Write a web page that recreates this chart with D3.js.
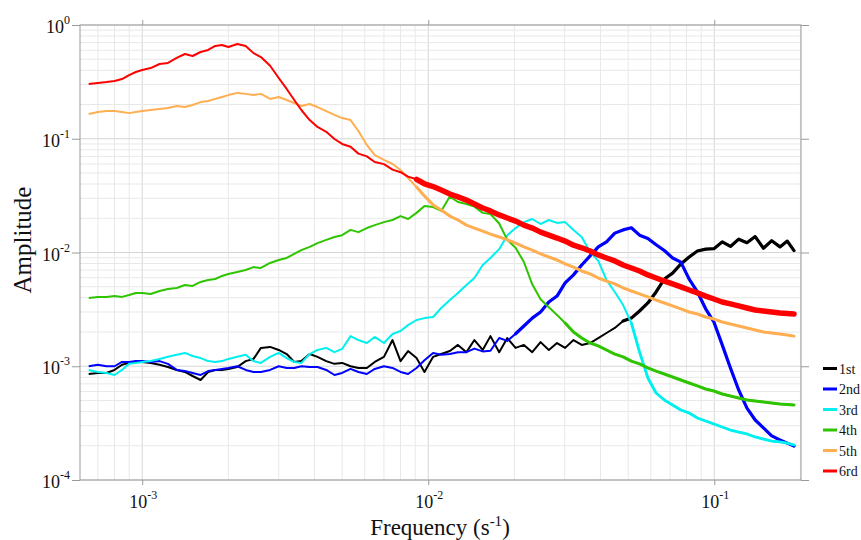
<!DOCTYPE html>
<html>
<meta charset="utf-8">
<script src="https://d3js.org/d3.v7.min.js"></script>
<style>
body { margin: 0; background: #fff; }
text { font-family: "Liberation Serif", "Times New Roman", serif; fill: #111; }
</style>
<body>
<script>

var freq = [0.00065,0.0007,0.00075,0.0008,0.00085,0.0009,0.00095,0.001,0.00107,0.00115,0.00123,
  0.00132,0.00141,0.0015,0.0016,0.0017,0.0018,0.0019,0.002,0.00215,0.0023,0.00245,
  0.0026,0.0028,0.003,0.0032,0.0034,0.0036,0.00385,0.0041,0.0044,0.0047,0.005,
  0.00535,0.0057,0.0061,0.0065,0.007,0.0075,0.008,0.0085,0.0091,0.0097,0.0104,
  0.0111,0.0119,0.0127,0.0136,0.0145,0.0155,0.0165,0.0177,0.0189,0.0202,0.0216,
  0.0231,0.0247,0.0264,0.0282,0.0301,0.0322,0.0344,0.0368,0.0393,0.042,0.0449,
  0.048,0.0513,0.0548,0.0586,0.0626,0.0669,0.0715,0.0764,0.0817,0.0873,0.0933,
  0.0997,0.1066,0.1139,0.1217,0.1301,0.139,0.1486,0.1588,0.1697,0.18,0.19];

var first = [0.000855,0.000873,0.000873,0.000928,0.00103,0.00107,0.00109,0.00109,0.00107,0.00103,0.000985,
  0.000928,0.000891,0.000821,0.000757,0.000891,0.000928,0.000928,0.000947,0.000985,0.00111,0.00116,
  0.00145,0.00148,0.00139,0.00128,0.00109,0.00111,0.00128,0.00121,0.00111,0.00105,0.00107,
  0.001,0.000966,0.000966,0.00109,0.00121,0.0017,0.00111,0.00136,0.00118,0.000891,0.00121,
  0.00128,0.00136,0.00154,0.00133,0.0017,0.00139,0.00184,0.00133,0.00177,0.00145,0.00154,
  0.00133,0.00163,0.00139,0.0016,0.00145,0.0017,0.00154,0.0016,0.00177,0.00196,0.00217,
  0.0025,0.00265,0.00306,0.0036,0.0045,0.00585,0.00658,0.00793,0.00913,0.0103,0.0107,
  0.0108,0.0124,0.0113,0.0131,0.0122,0.0138,0.0109,0.0127,0.0112,0.0126,0.0104];

var second = [0.001,0.00103,0.001,0.001,0.00109,0.00109,0.00111,0.00111,0.00109,0.00111,0.00105,
  0.000928,0.000907,0.000873,0.000838,0.000907,0.000928,0.000947,0.000966,0.001,0.000928,0.000891,
  0.000891,0.000928,0.001,0.000966,0.000966,0.001,0.000985,0.000985,0.000928,0.000838,0.000873,
  0.000947,0.000891,0.000855,0.000947,0.001,0.000966,0.000891,0.000855,0.000966,0.00113,0.00131,
  0.00126,0.00128,0.00133,0.00133,0.00143,0.00135,0.00137,0.00177,0.00167,0.00193,0.00226,
  0.00265,0.003,0.00367,0.00414,0.0054,0.00636,0.00777,0.00933,0.0112,0.0124,0.0148,
  0.0158,0.0165,0.0142,0.0133,0.0117,0.0104,0.00895,0.00823,0.00583,0.0045,0.0032,
  0.00245,0.00154,0.000966,0.000619,0.000429,0.000337,0.000287,0.000244,0.000225,0.000211,0.000199];

var third = [0.000928,0.000891,0.000873,0.000838,0.000928,0.00105,0.00107,0.00109,0.00111,0.00116,0.00121,
  0.00126,0.00131,0.00123,0.00118,0.00111,0.00109,0.00111,0.00116,0.00121,0.00126,0.00111,
  0.00107,0.00121,0.00131,0.00118,0.00109,0.00107,0.00128,0.00139,0.00145,0.00133,0.00142,
  0.00184,0.0017,0.0016,0.00181,0.0016,0.00192,0.00204,0.0023,0.00255,0.00265,0.00271,
  0.00325,0.00382,0.00441,0.00518,0.00597,0.00777,0.00895,0.0107,0.0142,0.0164,0.0185,
  0.0197,0.0178,0.0193,0.0182,0.0185,0.0158,0.0137,0.0101,0.00843,0.00573,0.0045,
  0.00345,0.0024,0.00133,0.000789,0.000582,0.000505,0.000456,0.000412,0.000388,0.000351,0.00033,
  0.000311,0.000292,0.000275,0.000264,0.000254,0.000239,0.000229,0.00022,0.000216,0.000211,0.000203];

var fourth = [0.00398,0.00407,0.00407,0.00414,0.00407,0.00423,0.00441,0.00441,0.00432,0.00459,0.00478,
  0.00488,0.00518,0.00508,0.00551,0.00573,0.00585,0.00622,0.00648,0.00674,0.00701,0.00744,
  0.00731,0.00809,0.00859,0.00895,0.00973,0.0105,0.0112,0.0121,0.0129,0.0137,0.0142,
  0.0158,0.0151,0.0164,0.0174,0.0185,0.0193,0.0209,0.0197,0.0223,0.0256,0.0251,
  0.0232,0.031,0.0278,0.0267,0.0253,0.0223,0.0218,0.018,0.0129,0.011,0.00825,
  0.00525,0.00388,0.0033,0.00282,0.0024,0.002,0.00177,0.0016,0.00151,0.00139,0.00128,
  0.00121,0.00111,0.00105,0.000966,0.000907,0.000855,0.000805,0.000757,0.000712,0.000671,0.000631,
  0.000606,0.00057,0.000548,0.000526,0.000505,0.000495,0.000485,0.000475,0.000466,0.000461,0.000456];

var fifth = [0.165,0.172,0.175,0.175,0.172,0.168,0.172,0.175,0.179,0.183,0.186,
  0.194,0.19,0.198,0.21,0.215,0.224,0.233,0.242,0.253,0.248,0.242,
  0.248,0.224,0.233,0.219,0.206,0.194,0.202,0.19,0.175,0.162,0.152,
  0.146,0.117,0.0882,0.0719,0.0651,0.06,0.0531,0.0452,0.0376,0.0314,0.0262,
  0.0236,0.0209,0.0193,0.0174,0.0164,0.0154,0.0145,0.0137,0.0129,0.0121,0.0112,
  0.0105,0.00973,0.00913,0.00859,0.00793,0.00744,0.00688,0.00648,0.00597,0.00561,0.00529,
  0.00488,0.00459,0.00432,0.00407,0.00382,0.0036,0.00339,0.00319,0.003,0.00288,0.00271,
  0.0026,0.00245,0.00235,0.00226,0.00217,0.00208,0.002,0.00196,0.00192,0.00188,0.00184];

var sixth = [0.303,0.309,0.315,0.322,0.335,0.363,0.386,0.402,0.418,0.454,0.464,
  0.513,0.556,0.534,0.579,0.603,0.654,0.668,0.641,0.681,0.654,0.566,
  0.523,0.438,0.342,0.274,0.219,0.179,0.146,0.127,0.115,0.0995,0.09,
  0.085,0.074,0.07,0.0625,0.0598,0.0535,0.0508,0.0465,0.044,0.0402,0.038,
  0.0354,0.0327,0.0308,0.0289,0.0267,0.0246,0.0232,0.0214,0.0201,0.0189,0.0174,
  0.0164,0.0151,0.0142,0.0134,0.0126,0.0116,0.011,0.0103,0.00952,0.00895,0.00843,
  0.00777,0.00731,0.00688,0.00635,0.00597,0.00561,0.00529,0.00498,0.00468,0.00441,0.00414,
  0.0039,0.00367,0.00353,0.00339,0.00325,0.00312,0.00306,0.003,0.00294,0.00291,0.00288];

var labels = ["1st", "2nd", "3rd", "4th", "5th", "6rd"];
var colors = ["#000000", "#0000ff", "#00f0f0", "#2fc400", "#ffae52", "#ff0000"];
var xMajor = [0.001, 0.01, 0.1];
var yMajor = [1e-4, 1e-3, 1e-2, 1e-1, 1];

var series = [first, second, third, fourth, fifth, sixth];

var margin = ({top: 25, left: 80, right: 60, bottom: 60});
var W = 861, H = 540;

var svg = d3.select("body").append("svg")
  .attr("width", W)
  .attr("height", H);

var x = d3.scaleLog()
  .domain([0.000606, 0.201])
  .range([margin.left, 801]);
var y = d3.scaleLog()
  .domain([1e-4, 1])
  .range([480, margin.top]);

// grid
var gx = x.ticks(), gy = y.ticks();
svg.append("g").selectAll("line").data(gx).enter().append("line")
  .attr("x1", d => x(d)).attr("x2", d => x(d))
  .attr("y1", y(1)).attr("y2", y(1e-4))
  .attr("stroke", d => xMajor.includes(d) ? "#d6d6d6" : "#e8e8e8")
  .attr("stroke-width", 1);
svg.append("g").selectAll("line").data(gy).enter().append("line")
  .attr("x1", x.range()[0]).attr("x2", x.range()[1])
  .attr("y1", d => y(d)).attr("y2", d => y(d))
  .attr("stroke", d => yMajor.includes(d) ? "#d6d6d6" : "#e8e8e8")
  .attr("stroke-width", 1);

// axes: outward ticks on all four sides
var axisColor = "#9a9a9a";
function tidy(g) {
  g.select(".domain").remove();
  g.selectAll("line").attr("stroke", axisColor);
  g.selectAll("text").remove();
}
svg.append("g").attr("transform", "translate(0,480)")
  .call(d3.axisBottom(x).tickValues(xMajor).tickSize(5)).call(tidy);
svg.append("g").attr("transform", "translate(0,25)")
  .call(d3.axisTop(x).tickValues(xMajor).tickSize(5)).call(tidy);
svg.append("g").attr("transform", "translate(80,0)")
  .call(d3.axisLeft(y).tickValues(yMajor).tickSize(8)).call(tidy);
svg.append("g").attr("transform", "translate(801,0)")
  .call(d3.axisRight(y).tickValues(yMajor).tickSize(8)).call(tidy);

svg.append("rect")
  .attr("x", 80).attr("y", 25)
  .attr("width", 801 - 80).attr("height", 480 - 25)
  .attr("fill", "none")
  .attr("stroke", axisColor)
  .attr("stroke-width", 1);

function powLabel(sel, v) {
  sel.append("tspan").text("10");
  sel.append("tspan")
    .attr("dy", -9)
    .attr("font-size", 12)
    .text(Math.round(Math.log10(v)));
}

svg.append("g").selectAll("text").data(xMajor).enter().append("text")
  .attr("x", d => x(d) + 1)
  .attr("y", 508)
  .attr("text-anchor", "middle")
  .attr("font-size", 18)
  .each(function(d) { powLabel(d3.select(this), d); });

svg.append("g").selectAll("text").data(yMajor).enter().append("text")
  .attr("x", 70)
  .attr("y", d => y(d) + 8)
  .attr("text-anchor", "end")
  .attr("font-size", 18)
  .each(function(d) { powLabel(d3.select(this), d); });

var xt = svg.append("text")
  .attr("x", 440)
  .attr("y", 535)
  .attr("text-anchor", "middle")
  .attr("font-size", 23);
xt.append("tspan").text("Frequency (s");
xt.append("tspan").attr("dy", -9).attr("font-size", 15).text("-1");
xt.append("tspan").attr("dy", 9).text(")");

svg.append("text")
  .attr("transform", "translate(31,240) rotate(-90)")
  .attr("text-anchor", "middle")
  .attr("font-size", 25)
  .text("Amplitude");

// lines
var line = d3.line()
  .x(d => x(d[0]))
  .y(d => y(d[1]));

var thickFrom = [0.045, 0.02, 0.05, 0.03, 0.009, 0.009];
var thickW = [3.2, 3.2, 2.8, 3, 3, 5.5];

series.forEach(function(vals, i) {
  var pts = freq.map((f, j) => [f, vals[j]]);
  svg.append("path")
    .datum(pts)
    .attr("d", line)
    .attr("fill", "none")
    .attr("stroke", colors[i])
    .attr("stroke-width", 2)
    .attr("stroke-linejoin", "round");
  svg.append("path")
    .datum(pts.filter(p => p[0] >= thickFrom[i]))
    .attr("d", line)
    .attr("fill", "none")
    .attr("stroke", colors[i])
    .attr("stroke-width", thickW[i])
    .attr("stroke-linejoin", "round")
    .attr("stroke-linecap", "round");
});

// legend
var leg = svg.append("g").selectAll("g").data(labels).enter().append("g")
  .attr("transform", (d, i) => "translate(823," + (368.5 + i * 20.5) + ")");
leg.append("line")
  .attr("x1", 0).attr("x2", 14)
  .attr("stroke", (d, i) => colors[i])
  .attr("stroke-width", 3);
leg.append("text")
  .attr("x", 16)
  .attr("y", 5)
  .attr("font-size", 14)
  .text(d => d);

</script>
</body>
</html>
